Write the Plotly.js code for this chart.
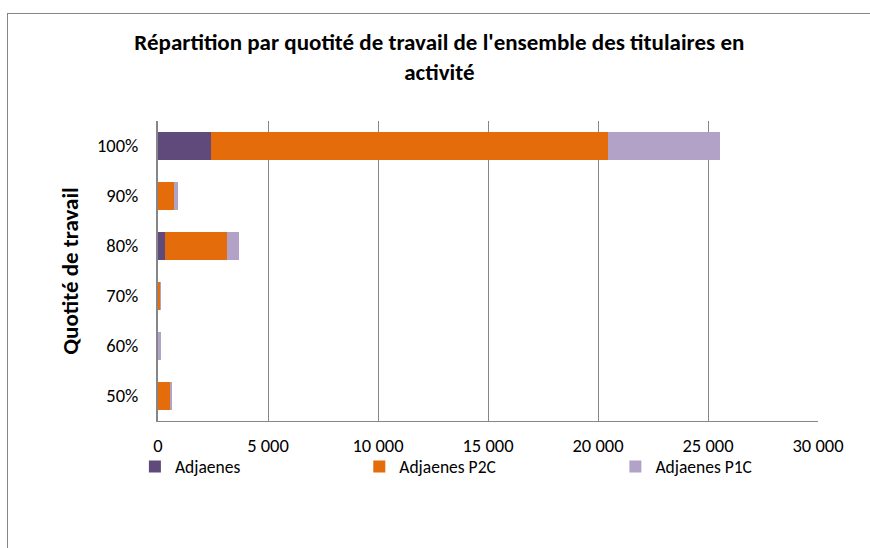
<!DOCTYPE html>
<html><head><meta charset="utf-8">
<script src="https://cdn.plot.ly/plotly-3.0.1.min.js"></script>
<style>body{margin:0;background:#fff}#b{position:absolute;left:7px;top:13px;width:870px;height:560px;border:1px solid #868686;pointer-events:none}</style>
</head><body>
<div id="c" style="position:absolute;left:0;top:0;width:870px;height:548px"></div>
<div id="b"></div>
<script>
const categories = ["50%","60%","70%","80%","90%","100%"];
const adjaenes    = [10, 5, 5, 320, 20, 2400];
const adjaenesP2C = [550, 10, 100, 2820, 710, 18050];
const adjaenesP1C = [90, 100, 20, 560, 160, 5100];
const seriesNames = ["Adjaenes","Adjaenes P2C","Adjaenes P1C"];
const colors = ["#604A7B","#E46C0A","#B3A2C7"];
const font = "Carlito, Calibri, Lato, sans-serif";
const vals = [adjaenes, adjaenesP2C, adjaenesP1C];
const legends = ["legend","legend2","legend3"];
const data = vals.map((v,i)=>({
  type:"bar", orientation:"h", y:categories, x:v, name:seriesNames[i],
  marker:{color:colors[i]}, legend:legends[i], hoverinfo:"x+name"
}));
const legStyle = (x)=>({orientation:"h", x:x, xref:"paper", y:-0.152, yanchor:"middle", xanchor:"left",
  font:{family:font,size:17.5,color:"#000"}, bgcolor:"rgba(0,0,0,0)", itemwidth:30, tracegroupgap:0});
const layout = {
  barmode:"stack", bargap:0.44,
  width:870, height:548,
  margin:{l:158, r:52, t:121, b:127},
  separators:", ",
  paper_bgcolor:"#fff", plot_bgcolor:"#fff",
  font:{family:font, size:18, color:"#000"},
  title:{text:"<b>Répartition par quotité de travail de l'ensemble des titulaires en<br>activité</b>",
    font:{family:font, size:23, color:"#000"}, x:0.505, xref:"container", xanchor:"center",
    y:1-50/548, yref:"container", yanchor:"top"},
  xaxis:{range:[0,30000], dtick:5000, tickformat:",d", showgrid:true, gridcolor:"#868686", gridwidth:1,
    zeroline:false, showline:true, linecolor:"#868686", ticks:"", ticklabelstandoff:8,
    tickfont:{family:font,size:18.5,color:"#000"}},
  yaxis:{type:"category", showgrid:false, zeroline:false, showline:true, linecolor:"#868686", linewidth:2,
    ticks:"", ticklabelstandoff:14, tickfont:{family:font,size:18.5,color:"#000"},
    title:{text:"<b>Quotité de travail</b>", font:{family:font,size:23,color:"#000"}, standoff:12}},
  showlegend:true,
  legend:legStyle(-0.035),
  legend2:legStyle(0.305),
  legend3:legStyle(0.693)
};
Plotly.newPlot("c", data, layout, {displayModeBar:false, staticPlot:true});
</script>
</body></html>
